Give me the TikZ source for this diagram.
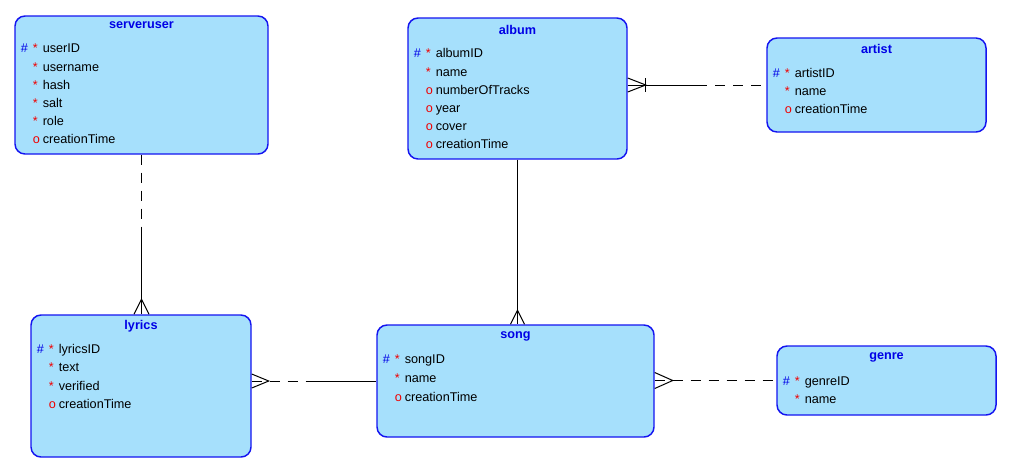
\documentclass[tikz,border=0pt]{standalone}
\usepackage{fontspec}
\setmainfont{Liberation Sans}
\usetikzlibrary{calc}

\definecolor{entfill}{RGB}{166,224,252}
\definecolor{entline}{RGB}{20,20,240}
\definecolor{keyblue}{RGB}{0,0,230}
\definecolor{markred}{RGB}{240,0,0}

\tikzset{
  entity/.style={draw=entline, line width=1.1pt, fill=entfill, rounded corners=7.5pt, inner sep=0pt},
  etitle/.style={font=\fontsize{9.5}{11}\selectfont\bfseries, text=keyblue, inner sep=0pt},
  attr/.style={font=\fontsize{9.5}{11}\selectfont, anchor=west, inner sep=0pt, text height=7pt, text depth=2pt},
  rel/.style={draw=black, line width=0.75pt},
  reldash/.style={rel, dash pattern=on 7.5pt off 6pt},
}

% attribute markers: primary key, mandatory, optional, none
\newcommand\pkm{\makebox[9pt][l]{\textcolor{keyblue}{\#}}}
\newcommand\nnm{\makebox[7.5pt][l]{\textcolor{markred}{*}}}
\newcommand\opm{\makebox[7.5pt][l]{\textcolor{markred}{o}}}
\newcommand\nom{\hspace*{9pt}}

\begin{document}
\begin{tikzpicture}[x=0.75pt,y=-0.75pt]
\useasboundingbox (0,0) rectangle (1016,472);

% ---------- serveruser ----------
\node[entity, minimum width=189.75pt, minimum height=103.5pt] (su) at (141.5,85) {};
\node[etitle] (su-t) at (141.5,25.5) {serveruser};
\node[attr] (su-1) at (20.5,49.5)  {\pkm\nnm userID};
\node[attr] (su-2) at (20.5,67.7)  {\nom\nnm username};
\node[attr] (su-3) at (20.5,85.9)  {\nom\nnm hash};
\node[attr] (su-4) at (20.5,104.1) {\nom\nnm salt};
\node[attr] (su-5) at (20.5,122.3) {\nom\nnm role};
\node[attr] (su-6) at (20.5,140.5) {\nom\opm creationTime};

% ---------- album ----------
\node[entity, minimum width=164.25pt, minimum height=105.75pt] (al) at (517.5,88.5) {};
\node[etitle] (al-t) at (517.5,29.5) {album};
\node[attr] (al-1) at (413.5,54.5)  {\pkm\nnm albumID};
\node[attr] (al-2) at (413.5,72.7)  {\nom\nnm name};
\node[attr] (al-3) at (413.5,90.9)  {\nom\opm numberOfTracks};
\node[attr] (al-4) at (413.5,109.1) {\nom\opm year};
\node[attr] (al-5) at (413.5,127.3) {\nom\opm cover};
\node[attr] (al-6) at (413.5,145.5) {\nom\opm creationTime};

% ---------- artist ----------
\node[entity, minimum width=164.25pt, minimum height=70.5pt] (ar) at (876.5,85) {};
\node[etitle] (ar-t) at (876.5,49.3) {artist};
\node[attr] (ar-1) at (772.5,73.7)  {\pkm\nnm artistID};
\node[attr] (ar-2) at (772.5,91.9)  {\nom\nnm name};
\node[attr] (ar-3) at (772.5,110.5) {\nom\opm creationTime};

% ---------- lyrics ----------
\node[entity, minimum width=165pt, minimum height=106.5pt] (ly) at (141,386) {};
\node[etitle] (ly-t) at (141,326) {lyrics};
\node[attr] (ly-1) at (36.5,350.3) {\pkm\nnm lyricsID};
\node[attr] (ly-2) at (36.5,368.5) {\nom\nnm text};
\node[attr] (ly-3) at (36.5,386.7) {\nom\nnm verified};
\node[attr] (ly-4) at (36.5,405.1) {\nom\opm creationTime};

% ---------- song ----------
\node[entity, minimum width=207.75pt, minimum height=84pt] (so) at (515.5,381) {};
\node[etitle] (so-t) at (515.5,336.5) {song};
\node[attr] (so-1) at (382.5,360.3) {\pkm\nnm songID};
\node[attr] (so-2) at (382.5,379.3) {\nom\nnm name};
\node[attr] (so-3) at (382.5,397.7) {\nom\opm creationTime};

% ---------- genre ----------
\node[entity, minimum width=164.25pt, minimum height=51.75pt] (ge) at (886.5,380.5) {};
\node[etitle] (ge-t) at (886.5,357.5) {genre};
\node[attr] (ge-1) at (782.5,382)   {\pkm\nnm genreID};
\node[attr] (ge-2) at (782.5,399.7) {\nom\nnm name};

% ---------- relationships ----------
% serveruser -- lyrics (many lyrics)
\coordinate (su-ly-end) at (su.south |- ly.north);
\coordinate (su-ly-mid) at ($(su.south)!0.5!(su-ly-end)$);
\draw[reldash] (su.south) -- (su-ly-mid);
\draw[rel] (su-ly-mid) -- (su-ly-end);
\draw[rel] (su-ly-end) ++(-7.5,0) -- ++(7.5,-15) -- ++(7.5,15);

% album -- song (many songs)
\coordinate (al-so-end) at (al.south |- so.north);
\draw[rel] (al.south) -- (al-so-end);
\draw[rel] (al-so-end) ++(-7,0) -- ++(7,-14) -- ++(7,14);

% album -- artist (one or many albums)
\coordinate (al-ar-start) at (al.east |- ar.west);
\coordinate (al-ar-mid) at ($(al-ar-start)!0.5!(ar.west)$);
\draw[rel] (al-ar-start) -- (al-ar-mid);
\draw[reldash] (al-ar-mid) -- (ar.west);
\draw[rel] (al-ar-start) ++(0,-7) -- ++(18,7) -- ++(-18,7);
\draw[rel] (al-ar-start) ++(18,-7) -- ++(0,14);

% lyrics -- song (many lyrics)
\coordinate (ly-so-start) at (ly.east |- so.west);
\coordinate (ly-so-mid) at ($(ly-so-start)!0.5!(so.west)$);
\draw[reldash] (ly-so-start) -- (ly-so-mid);
\draw[rel] (ly-so-mid) -- (so.west);
\draw[rel] (ly-so-start) ++(0,-7) -- ++(17,7) -- ++(-17,7);

% song -- genre (many songs)
\coordinate (so-ge-start) at (so.east |- ge.west);
\draw[reldash] (so-ge-start) -- (ge.west);
\draw[rel] (so-ge-start) ++(0,-8) -- ++(18,8) -- ++(-18,8);

\end{tikzpicture}
\end{document}
